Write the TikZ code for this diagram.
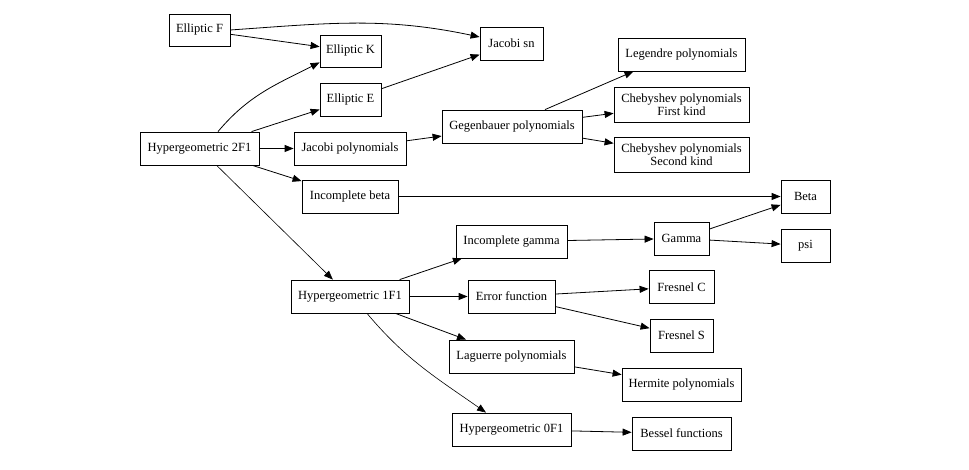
\documentclass[tikz,border=0pt]{standalone}
\usepackage{fontspec}
\setmainfont{Liberation Serif}
\usepackage{tikz}
\usetikzlibrary{positioning,arrows.meta}

\begin{document}
\begin{tikzpicture}[
    x=1pt, y=1pt,
    box/.style = {rectangle, draw=black, line width=0.8pt, fill=white, minimum height=33pt, inner xsep=2pt, inner ysep=4pt, align=center, font=\fontsize{12.5}{13.5}\selectfont},
    link/.style = {-{Triangle[length=9pt,width=7pt]}, line width=0.8pt},
]
    \useasboundingbox (0,0) rectangle (969,470);

    % elliptic functions
    \node [box, minimum width=61, minimum height=32] (ellF) at (199.5,440) {Elliptic F};
    \node [box, minimum width=61, minimum height=32] (ellK) at (350.5,419) {Elliptic K};
    \node [box, minimum width=61] (ellE) at (350.5,370.5) {Elliptic E};
    \node [box, minimum width=63] (jacsn) at (511.5,426.5) {Jacobi sn};

    % 2F1 family
    \node [box, minimum width=119] (hyp2f1) at (199.5,321.5) {Hypergeometric 2F1};
    \node [box, minimum width=112] (jacpoly) at (350,321.5) {Jacobi polynomials};
    \node [box, minimum width=96] (incbeta) at (350,273.5) {Incomplete beta};
    \node [box, minimum width=140] (gegen) at (512,343.5) {Gegenbauer polynomials};
    \node [box, minimum width=127] (legendre) at (681.5,415.5) {Legendre polynomials};
    \node [box, minimum width=135, minimum height=35] (cheb1) at (681.5,365.5) {Chebyshev polynomials\\ First kind};
    \node [box, minimum width=135, minimum height=35] (cheb2) at (681.5,315.5) {Chebyshev polynomials\\ Second kind};
    \node [box, minimum width=49] (beta) at (805.5,273.5) {Beta};

    % 1F1 family
    \node [box, minimum width=118] (hyp1f1) at (350,173.5) {Hypergeometric 1F1};
    \node [box, minimum width=111] (incgamma) at (511.5,228.5) {Incomplete gamma};
    \node [box, minimum width=55] (gamma) at (681.5,231.5) {Gamma};
    \node [box, minimum width=49] (psi) at (805.5,224.5) {psi};
    \node [box, minimum width=87] (erf) at (511.5,173.5) {Error function};
    \node [box, minimum width=65] (fresC) at (681.5,183) {Fresnel C};
    \node [box, minimum width=63] (fresS) at (681.5,134.5) {Fresnel S};
    \node [box, minimum width=125] (laguerre) at (511.5,113.5) {Laguerre polynomials};
    \node [box, minimum width=119] (hermite) at (681.5,85.5) {Hermite polynomials};
    \node [box, minimum width=119] (hyp0f1) at (511.5,40.5) {Hypergeometric 0F1};
    \node [box, minimum width=99] (bessel) at (681.5,36.5) {Bessel functions};

    % edges
    \draw [link] (ellF) -- (ellK);
    \draw [link] (ellF.east) to[out=4, in=168] ([yshift=6.5]jacsn.west);
    \draw [link] (ellE) -- (jacsn);
    \draw [link] ([xshift=18.5]hyp2f1.north) to[out=50, in=207] ([yshift=5]ellK.south west);
    \draw [link] (hyp2f1) -- (ellE);
    \draw [link] (hyp2f1) -- (jacpoly);
    \draw [link] (hyp2f1) -- (incbeta);
    \draw [link, line width=0.6pt] (hyp2f1) -- (hyp1f1);
    \draw [link] (jacpoly) -- (gegen);
    \draw [link] ([xshift=33]gegen.north) -- ([xshift=-48]legendre.south);
    \draw [link] (gegen) -- (cheb1);
    \draw [link] (gegen) -- (cheb2);
    \draw [link] (incbeta) -- (beta);
    \draw [link] (hyp1f1) -- (incgamma);
    \draw [link] (hyp1f1) -- (erf);
    \draw [link] (hyp1f1) -- (laguerre);
    \draw [link, line width=0.6pt] ([xshift=17]hyp1f1.south) to[out=-50, in=145] ([xshift=-25.5]hyp0f1.north);
    \draw [link] (incgamma) -- (gamma);
    \draw [link] (gamma) -- (beta);
    \draw [link] (gamma) -- (psi);
    \draw [link] (erf) -- (fresC);
    \draw [link] (erf) -- (fresS);
    \draw [link] (laguerre) -- (hermite);
    \draw [link] (hyp0f1) -- (bessel);
\end{tikzpicture}
\end{document}
